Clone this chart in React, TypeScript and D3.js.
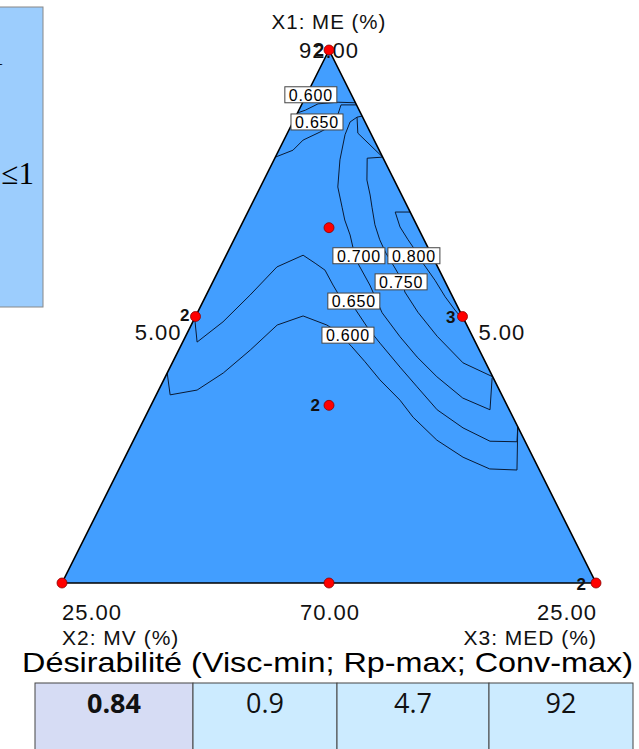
import React from 'react';
import * as d3 from 'd3';

// ---------- data (pseudo-component fractions [X1, X2, X3]) ----------
const contourLevels = ['0.600', '0.650', '0.700', '0.750', '0.800'];

const c600Upper: number[][] = [
  [0.882, 0.118, 0.0], [0.887, 0.101, 0.012], [0.899, 0.071, 0.03], [0.902, 0.032, 0.066], [0.901, 0.0, 0.099],
];
const c650Upper: number[][] = [
  [0.799, 0.201, 0.0], [0.812, 0.161, 0.026], [0.831, 0.133, 0.036], [0.846, 0.094, 0.06], [0.854, 0.075, 0.071],
  [0.88, 0.043, 0.077], [0.897, 0.029, 0.074], [0.897, 0.0, 0.103],
];
const c700Piece: number[][] = [
  [0.876, 0.0, 0.124], [0.874, 0.01, 0.115], [0.844, 0.024, 0.132], [0.799, 0.0, 0.201],
];
const c700: number[][] = [
  [0.874, 0.01, 0.115], [0.865, 0.028, 0.107], [0.841, 0.05, 0.11], [0.794, 0.083, 0.124], [0.743, 0.112, 0.145],
  [0.705, 0.123, 0.172], [0.681, 0.13, 0.189], [0.653, 0.134, 0.213], [0.629, 0.141, 0.231], [0.6, 0.146, 0.254],
  [0.559, 0.144, 0.297], [0.507, 0.147, 0.346], [0.462, 0.136, 0.402], [0.424, 0.123, 0.453], [0.387, 0.105, 0.509],
  [0.347, 0.076, 0.577], [0.325, 0.036, 0.639], [0.385, 0.002, 0.613],
];
const c750: number[][] = [
  [0.799, 0.0, 0.201], [0.797, 0.03, 0.173], [0.756, 0.051, 0.193], [0.728, 0.059, 0.213], [0.705, 0.067, 0.228],
  [0.672, 0.078, 0.25], [0.644, 0.083, 0.273], [0.619, 0.084, 0.297], [0.591, 0.081, 0.328], [0.565, 0.079, 0.356],
  [0.546, 0.085, 0.369], [0.508, 0.079, 0.412], [0.463, 0.066, 0.471], [0.413, 0.043, 0.545], [0.387, 0.0, 0.613],
];
const c800: number[][] = [
  [0.696, 0.0, 0.304], [0.696, 0.028, 0.276], [0.668, 0.033, 0.299], [0.644, 0.03, 0.326], [0.625, 0.027, 0.349],
  [0.6, 0.024, 0.376], [0.568, 0.017, 0.414], [0.537, 0.014, 0.449], [0.512, 0.008, 0.48], [0.488, 0.0, 0.512],
];
const c650Lower: number[][] = [
  [0.497, 0.503, 0.0], [0.452, 0.521, 0.027], [0.49, 0.454, 0.057], [0.54, 0.378, 0.082], [0.593, 0.301, 0.106],
  [0.615, 0.241, 0.144], [0.6, 0.226, 0.174], [0.587, 0.214, 0.199], [0.559, 0.213, 0.228], [0.537, 0.211, 0.252],
  [0.514, 0.194, 0.292], [0.478, 0.188, 0.334], [0.45, 0.179, 0.37], [0.405, 0.164, 0.43], [0.368, 0.151, 0.481],
  [0.325, 0.135, 0.54], [0.291, 0.104, 0.606], [0.266, 0.065, 0.668], [0.265, 0.016, 0.72], [0.293, 0.0, 0.707],
];
const c600Lower: number[][] = [
  [0.394, 0.606, 0.0], [0.353, 0.621, 0.026], [0.362, 0.566, 0.072], [0.394, 0.501, 0.105], [0.437, 0.429, 0.134],
  [0.484, 0.355, 0.161], [0.501, 0.298, 0.201], [0.484, 0.262, 0.254], [0.471, 0.248, 0.281], [0.443, 0.236, 0.322],
  [0.415, 0.225, 0.36], [0.381, 0.214, 0.405], [0.343, 0.195, 0.461], [0.311, 0.187, 0.502], [0.268, 0.164, 0.568],
  [0.236, 0.131, 0.633], [0.214, 0.092, 0.694], [0.212, 0.042, 0.746], [0.293, 0.0, 0.707],
];
const contourLines = [c600Upper, c650Upper, c700Piece, c700, c750, c800, c650Lower, c600Lower];

const contourLabelText = ['0.600', '0.650', '0.700', '0.800', '0.750', '0.650', '0.600'];
const contourLabelPos: number[][] = [
  [0.916, 0.076, 0.008], [0.865, 0.09, 0.045], [0.614, 0.137, 0.249], [0.614, 0.034, 0.352],
  [0.565, 0.083, 0.353], [0.529, 0.189, 0.282], [0.465, 0.232, 0.303],
];

const designPoints: number[][] = [
  [1, 0, 0], [0.5, 0.5, 0], [0.5, 0, 0.5], [2 / 3, 1 / 6, 1 / 6], [1 / 3, 1 / 3, 1 / 3],
  [0, 1, 0], [0, 0.5, 0.5], [0, 0, 1],
];
const designReplicates = ['2', '2', '3', '', '2', '', '', '2'];

const vertexLabels = ['92.00', '25.00', '25.00'];
const edgeLabels = ['5.00', '5.00', '70.00']; // left, right, bottom
const axisTitles = ['X1: ME (%)', 'X2: MV (%)', 'X3: MED (%)'];

const titleText = 'Désirabilité (Visc-min; Rp-max; Conv-max)';
const tableValues = ['0.84', '0.9', '4.7', '92'];

// ---------- layout ----------
const W = 639;
const H = 749;
const FONT = 'Liberation Sans, Arial, sans-serif';

const yScale = d3.scaleLinear().domain([0, 1]).range([583, 50]); // X1 height
const xScale = d3.scaleLinear().domain([-1, 1]).range([62, 596]); // X3 - X2
const px = (p: number[]) => xScale(p[2] - p[1]);
const py = (p: number[]) => yScale(p[0]);

const lineGen = d3.line<number[]>().x(px).y(py);

const tableEdges = [35, 193, 337, 489, 633];
const tableFills = ['#D6DCF4', '#CCEBFF', '#CCEBFF', '#CCEBFF'];
const tableTop = 683;

// replicate label offsets (dx from dot to text right edge, dy baseline)
const repOffsets: number[][] = [
  [-3, 6], [-4, 4], [-5, 6], [0, 0], [-7, 6], [0, 0], [0, 0], [-8, 7],
];

export default function App() {
  const tri = [[1, 0, 0], [0, 1, 0], [0, 0, 1]];
  const triPath = lineGen(tri) + 'Z';
  const [A, B, C] = tri;
  const leftMid = [0.5, 0.5, 0];
  const rightMid = [0.5, 0, 0.5];
  const bottomMid = [0, 0.5, 0.5];

  const tick = { fontSize: 22, fill: '#111', letterSpacing: 1 } as const;

  return (
    <svg
      width={W}
      height={H}
      style={{ position: 'absolute', left: 0, top: 0, background: '#fff' }}
      fontFamily={FONT}
    >
      {/* left light-blue panel (clipped) */}
      <rect x={-2} y={7} width={45} height={300} fill="#9CCDFD" stroke="#888" strokeWidth={1} />
      <text x={4} y={65} textAnchor="end" fontFamily="Liberation Serif, serif" fontSize={30} fill="#000">1</text>
      <text x={34} y={184} textAnchor="end" fontFamily="Liberation Serif, serif" fontSize={31} fill="#000">≤1</text>

      {/* triangle */}
      <path d={triPath} fill="#429EFF" stroke="none" />

      {/* contour lines */}
      {contourLines.map((pts, i) => (
        <path key={i} d={lineGen(pts) || ''} fill="none" stroke="#0a1a33" strokeWidth={1} />
      ))}

      {/* triangle outline */}
      <path d={triPath} fill="none" stroke="#000" strokeWidth={1.6} strokeLinejoin="miter" />

      {/* contour labels */}
      {contourLabelPos.map((p, i) => {
        const cx = px(p);
        const cy = py(p);
        return (
          <g key={i}>
            <rect x={cx - 26} y={cy - 8} width={52} height={16} fill="#fff" stroke="#444" strokeWidth={1} />
            <text x={cx} y={cy + 6} textAnchor="middle" fontSize={16} letterSpacing={0.8} fill="#000">
              {contourLabelText[i]}
            </text>
          </g>
        );
      })}

      {/* axis labels */}
      <text x={px(A)} y={29} textAnchor="middle" fontSize={20.5} fill="#111" letterSpacing={1}>{axisTitles[0]}</text>
      <text x={px(A)} y={58} textAnchor="middle" {...tick}>{vertexLabels[0]}</text>
      <text x={px(B)} y={620} textAnchor="start" {...tick}>{vertexLabels[1]}</text>
      <text x={px(C) + 1} y={620} textAnchor="end" {...tick}>{vertexLabels[2]}</text>
      <text x={px(bottomMid) + 1} y={620} textAnchor="middle" {...tick}>{edgeLabels[2]}</text>
      <text x={px(leftMid) - 14} y={340} textAnchor="end" {...tick}>{edgeLabels[0]}</text>
      <text x={px(rightMid) + 16} y={340} textAnchor="start" {...tick}>{edgeLabels[1]}</text>
      <text x={px(B)} y={645} textAnchor="start" fontSize={21} fill="#111" letterSpacing={1}>{axisTitles[1]}</text>
      <text x={px(C) + 1} y={645} textAnchor="end" fontSize={21} fill="#111" letterSpacing={1}>{axisTitles[2]}</text>

      {/* design points */}
      {designPoints.map((p, i) => (
        <g key={i}>
          <circle cx={px(p)} cy={py(p)} r={5} fill="#FF0000" stroke="#8a0000" strokeWidth={0.8} />
          {designReplicates[i] && (
            <text
              x={px(p) + repOffsets[i][0] - 2}
              y={py(p) + repOffsets[i][1]}
              textAnchor="end"
              fontSize={17}
              fontWeight="bold"
              fill="#111"
            >
              {designReplicates[i]}
            </text>
          )}
        </g>
      ))}

      {/* title */}
      <text
        x={22}
        y={672}
        fontSize={28}
        fill="#000"
        fontFamily="Liberation Sans Narrow, Liberation Sans, Arial, sans-serif"
        textLength={611}
        lengthAdjust="spacingAndGlyphs"
      >
        {titleText}
      </text>

      {/* table */}
      {tableValues.map((v, i) => (
        <g key={i}>
          <rect
            x={tableEdges[i]}
            y={tableTop}
            width={tableEdges[i + 1] - tableEdges[i]}
            height={90}
            fill={tableFills[i]}
            stroke="#444"
            strokeWidth={1}
          />
          <text
            x={(tableEdges[i] + tableEdges[i + 1]) / 2}
            y={tableTop + 30}
            textAnchor="middle"
            fontSize={27}
            fontWeight={i === 0 ? 'bold' : 'normal'}
            fontFamily="Open Sans, Noto Sans, sans-serif"
            fill="#111"
          >
            {v}
          </text>
        </g>
      ))}
    </svg>
  );
}
